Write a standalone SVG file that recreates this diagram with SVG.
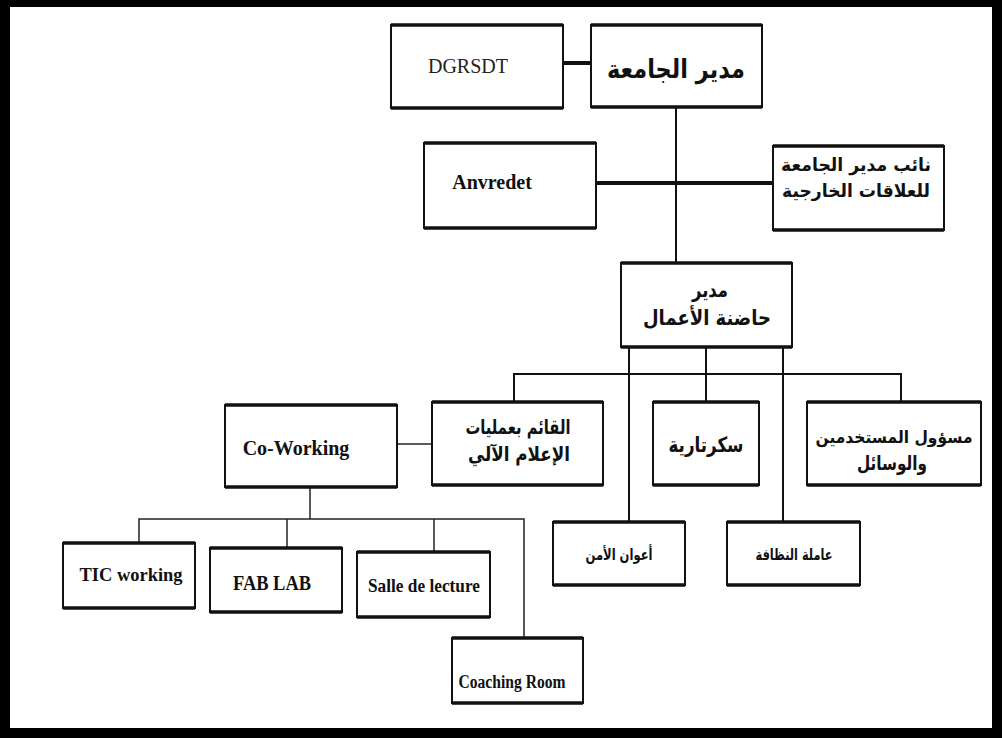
<svg xmlns="http://www.w3.org/2000/svg" width="1002" height="738" viewBox="0 0 1002 738">
<style>
.box{fill:#fff;stroke:#111;stroke-width:2}
.edge{stroke:#111;stroke-width:3.5;fill:none}
.lat{font-family:"Liberation Serif",serif;fill:#222;text-anchor:middle}
.latb{font-family:"Liberation Serif",serif;font-weight:bold;fill:#111;text-anchor:middle}
.ar{font-family:"DejaVu Sans","Noto Sans",sans-serif;font-weight:bold;fill:#111;text-anchor:middle;direction:rtl}
.c{stroke:#111;fill:none;stroke-width:2}
.ct{stroke:#111;fill:none;stroke-width:4}
.cs{stroke:#222;fill:none;stroke-width:1.5}
</style>
<rect x="0" y="0" width="1002" height="738" fill="#fff"/>
<rect x="5" y="2" width="992" height="731" fill="none" stroke="#000" stroke-width="10"/>
<g id="connectors">
<line class="ct" x1="562" y1="63" x2="591" y2="63"/>
<line class="c" x1="676" y1="107" x2="676" y2="263"/>
<line class="ct" x1="596" y1="183" x2="773" y2="183"/>
<line class="c" x1="629" y1="347" x2="629" y2="522"/>
<line class="c" x1="706" y1="347" x2="706" y2="402"/>
<line class="c" x1="783" y1="347" x2="783" y2="522"/>
<polyline class="c" points="514,402 514,374 901,374 901,402"/>
<line class="cs" x1="397" y1="444" x2="433" y2="444"/>
<line class="cs" x1="310" y1="487" x2="310" y2="519"/>
<polyline class="cs" points="139,543 139,519 524,519 524,638"/>
<line class="cs" x1="287" y1="519" x2="287" y2="548"/>
<line class="cs" x1="434" y1="519" x2="434" y2="552"/>
</g>
<g id="n-dgrsdt"><rect class="box" x="391" y="25" width="172" height="83"/><path class="edge" d="M391 25H563M391 108H563"/><text class="lat" x="468" y="73" font-size="20">DGRSDT</text></g>
<g id="n-mudir-jamia"><rect class="box" x="591" y="25" width="171" height="82"/><path class="edge" d="M591 25H762M591 107H762"/><text class="ar" x="676" y="78" font-size="26" textLength="138" lengthAdjust="spacingAndGlyphs">مدير الجامعة</text></g>
<g id="n-anvredet"><rect class="box" x="424" y="143" width="172" height="85"/><path class="edge" d="M424 143H596M424 228H596"/><text class="latb" x="492" y="189" font-size="20">Anvredet</text></g>
<g id="n-naib"><rect class="box" x="773" y="146" width="171" height="84"/><path class="edge" d="M773 146H944M773 230H944"/><text class="ar" x="856" y="171" font-size="18" textLength="150" lengthAdjust="spacingAndGlyphs">نائب مدير الجامعة</text><text class="ar" x="856" y="197" font-size="18" textLength="148" lengthAdjust="spacingAndGlyphs">للعلاقات الخارجية</text></g>
<g id="n-mudir-hadina"><rect class="box" x="621" y="263" width="171" height="84"/><path class="edge" d="M621 263H792M621 347H792"/><text class="ar" x="710" y="297" font-size="20" textLength="36" lengthAdjust="spacingAndGlyphs">مدير</text><text class="ar" x="707" y="325" font-size="21" textLength="128" lengthAdjust="spacingAndGlyphs">حاضنة الأعمال</text></g>
<g id="n-coworking"><rect class="box" x="225" y="405" width="172" height="82"/><path class="edge" d="M225 405H397M225 487H397"/><text class="latb" x="296" y="455" font-size="20">Co-Working</text></g>
<g id="n-qaim"><rect class="box" x="432" y="402" width="171" height="83"/><path class="edge" d="M432 402H603M432 485H603"/><text class="ar" x="518" y="434" font-size="20" textLength="105" lengthAdjust="spacingAndGlyphs">القائم بعمليات</text><text class="ar" x="519" y="461" font-size="20" textLength="102" lengthAdjust="spacingAndGlyphs">الإعلام الآلي</text></g>
<g id="n-sec"><rect class="box" x="653" y="402" width="106" height="83"/><path class="edge" d="M653 402H759M653 485H759"/><text class="ar" x="706" y="452" font-size="21" textLength="75" lengthAdjust="spacingAndGlyphs">سكرتارية</text></g>
<g id="n-masoul"><rect class="box" x="807" y="402" width="174" height="83"/><path class="edge" d="M807 402H981M807 485H981"/><text class="ar" x="894" y="443" font-size="17" textLength="157" lengthAdjust="spacingAndGlyphs">مسؤول المستخدمين</text><text class="ar" x="892" y="470" font-size="20" textLength="70" lengthAdjust="spacingAndGlyphs">والوسائل</text></g>
<g id="n-amn"><rect class="box" x="553" y="522" width="132" height="63"/><path class="edge" d="M553 522H685M553 585H685"/><text class="ar" x="619" y="560" font-size="16" textLength="67" lengthAdjust="spacingAndGlyphs">أعوان الأمن</text></g>
<g id="n-nadhafa"><rect class="box" x="727" y="522" width="133" height="63"/><path class="edge" d="M727 522H860M727 585H860"/><text class="ar" x="794" y="560" font-size="16" textLength="77" lengthAdjust="spacingAndGlyphs">عاملة النظافة</text></g>
<g id="n-tic"><rect class="box" x="63" y="543" width="132" height="65"/><path class="edge" d="M63 543H195M63 608H195"/><text class="latb" x="131" y="581" font-size="19" textLength="103" lengthAdjust="spacingAndGlyphs">TIC working</text></g>
<g id="n-fablab"><rect class="box" x="210" y="548" width="132" height="64"/><path class="edge" d="M210 548H342M210 612H342"/><text class="latb" x="272" y="590" font-size="20" textLength="78" lengthAdjust="spacingAndGlyphs">FAB LAB</text></g>
<g id="n-salle"><rect class="box" x="357" y="552" width="133" height="65"/><path class="edge" d="M357 552H490M357 617H490"/><text class="latb" x="424" y="592" font-size="19" textLength="112" lengthAdjust="spacingAndGlyphs">Salle de lecture</text></g>
<g id="n-coaching"><rect class="box" x="452" y="638" width="131" height="65"/><path class="edge" d="M452 638H583M452 703H583"/><text class="latb" x="512" y="688" font-size="18" textLength="107" lengthAdjust="spacingAndGlyphs">Coaching Room</text></g>
</svg>
